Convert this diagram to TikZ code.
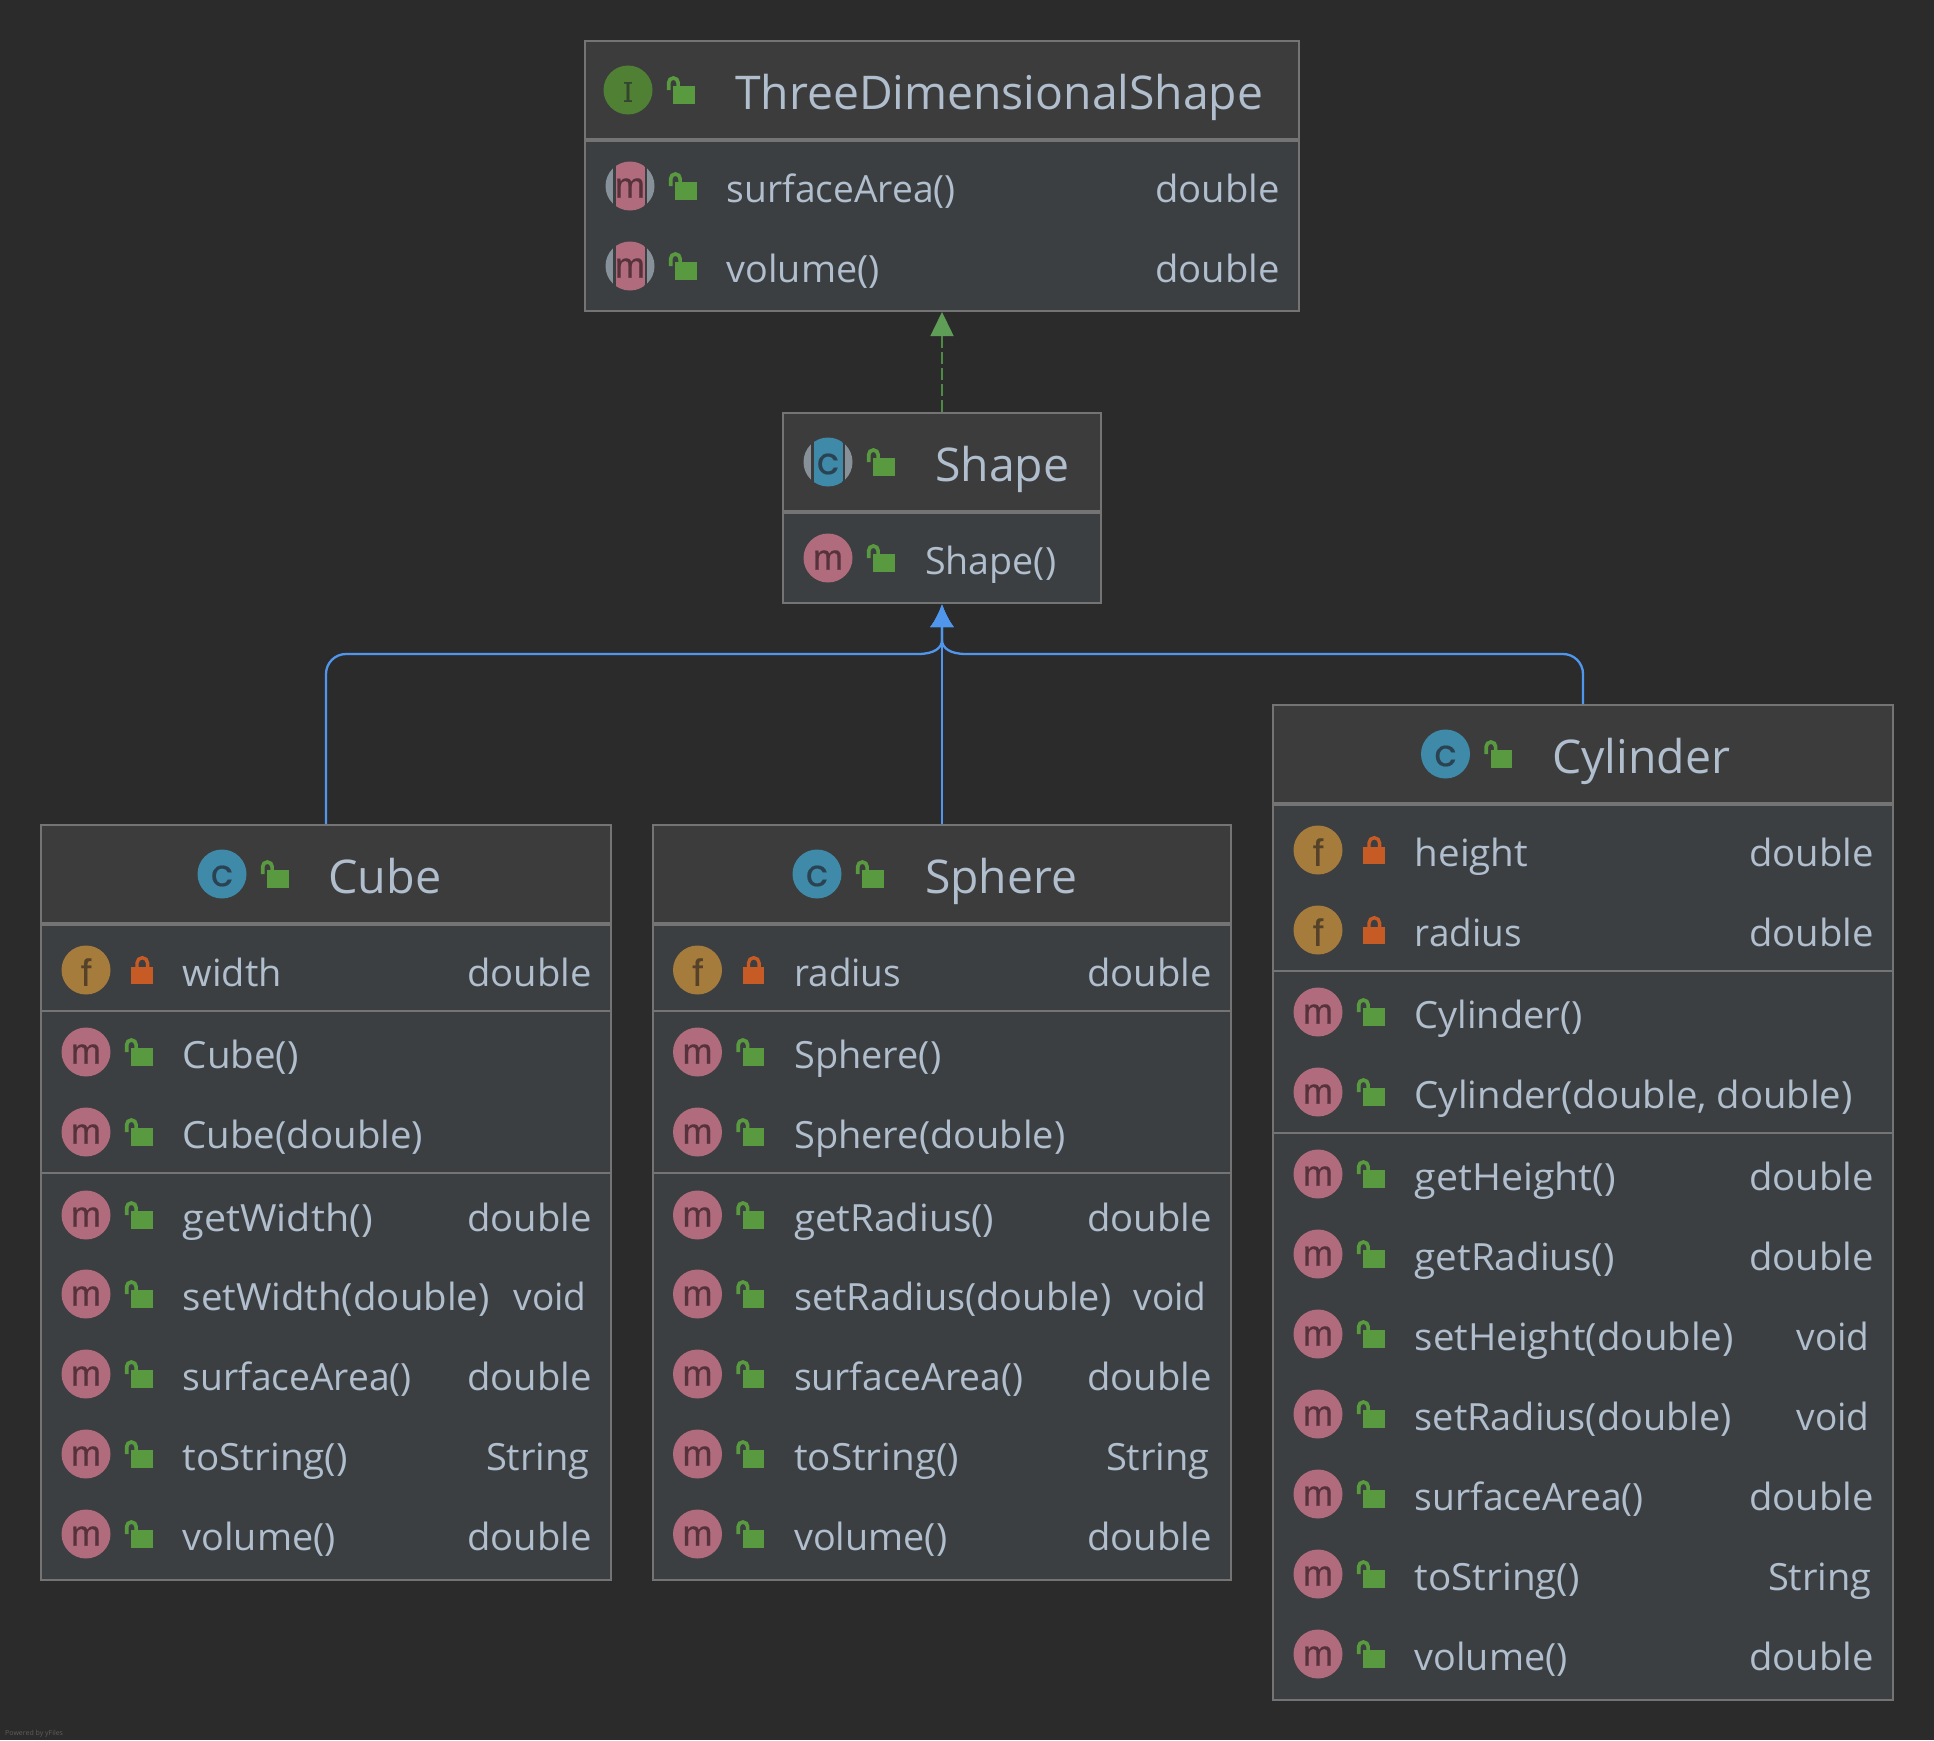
\documentclass[tikz,border=0pt]{standalone}
\usepackage{graphicx}
\usepackage{fontspec}
\setmainfont{Open Sans}
\newfontfamily\glyphfont[FakeBold=0.35]{Liberation Sans}
\newfontfamily\roundglyph[FakeBold=0.4]{Poppins}
\newfontfamily\serifglyph[FakeBold=0.4]{DejaVu Serif}
\usetikzlibrary{arrows.meta,calc}
\definecolor{pagebg}{HTML}{2B2B2B}
\definecolor{headbg}{HTML}{3C3C3C}
\definecolor{membg}{HTML}{3C3F41}
\definecolor{edge}{HTML}{747474}
\definecolor{txt}{HTML}{B0BECD}
\definecolor{lockg}{HTML}{599A40}
\definecolor{lockr}{HTML}{C75B26}
\definecolor{icm}{HTML}{B06B7C}
\definecolor{icmd}{HTML}{56323C}
\definecolor{icc}{HTML}{3F8AA8}
\definecolor{iccd}{HTML}{2B4252}
\definecolor{ici}{HTML}{4F8034}
\definecolor{icid}{HTML}{34442E}
\definecolor{icf}{HTML}{A67C3D}
\definecolor{icfd}{HTML}{554228}
\definecolor{icgrey}{HTML}{87919A}
\definecolor{inhblue}{HTML}{4F96EC}
\definecolor{impll}{HTML}{4F8A45}
\definecolor{implt}{HTML}{5F9E57}
\tikzset{
  boxnode/.style={draw=edge,line width=2pt,fill=membg,inner sep=0pt,anchor=north west},
  headnode/.style={draw=edge,line width=2pt,fill=headbg,inner sep=0pt,anchor=north west},
  headdiv/.style={draw=edge,line width=4pt},
  rowdiv/.style={draw=edge,line width=2pt},
  rowtext/.style={text=txt,inner sep=0pt,anchor=base west,font=\fontsize{37.5}{40}\selectfont},
  typetext/.style={text=txt,inner sep=0pt,anchor=base east,xshift=0.8pt,font=\fontsize{37.5}{40}\selectfont},
  headtext/.style={text=txt,inner sep=0pt,anchor=base west,font=\fontsize{46.5}{50}\selectfont},
  icondisc/.style={circle,inner sep=0pt,minimum size=49pt},
  glyph/.style={inner sep=0pt,anchor=center},
  inh/.style={draw=inhblue,line width=2.3pt},
  inhtip/.style={-{Latex[length=23pt,width=24pt,fill=inhblue]},shorten >=0.5pt},
  impl/.style={draw=impll,line width=2.5pt,dash pattern=on 12pt off 4pt},
  impltip/.style={fill=implt},
}
\newcommand{\tw}[2]{\resizebox{#1pt}{\height}{#2}}
\newcommand{\mglyph}{{\glyphfont\fontsize{36}{36}\selectfont m}}
\newcommand{\fglyph}{{\glyphfont\fontsize{38}{38}\selectfont f}}
\newcommand{\cglyph}{{\roundglyph\fontsize{37}{37}\selectfont c}}
\newcommand{\iglyph}{{\serifglyph\fontsize{27}{27}\selectfont I}}
% #1 name #2 x #3 y #4 fill #5 dark #6 letter
\newcommand{\ico}[6]{%
  \node[icondisc,fill=#4] (#1) at (#2,#3) {};
  \node[glyph,text=#5] at (#2,#3+2) {#6};}
% abstract variant: #7 colour behind the band
\newcommand{\icoab}[7]{%
  \node[icondisc,fill=icgrey] (#1) at (#2,#3) {};
  \fill[#7] (#2-16.7,#3-25) rectangle (#2+17.3,#3+25);
  \begin{scope}
    \clip (#2,#3) circle (24.5pt);
    \fill[#4] (#2-14.5,#3-25) rectangle (#2+14.5,#3+25);
  \end{scope}
  \node[glyph,text=#5] at (#2,#3+2) {#6};}
\newcommand{\lockopen}[2]{%
  \fill[lockg] (#1+45.3,#2-4) rectangle (#1+66.7,#2+13.7);
  \draw[lockg,line width=3.7pt] (#1+40.7,#2) -- (#1+40.7,#2-7.3) arc[start angle=180,end angle=0,radius=4.7pt] -- (#1+50.1,#2-3.5);}
\newcommand{\lockclosed}[2]{%
  \fill[lockr] (#1+45,#2-3.3) rectangle (#1+66.7,#2+13.7);
  \draw[lockr,line width=3.4pt] (#1+51,#2-3) -- (#1+51,#2-7) arc[start angle=180,end angle=0,radius=5.3pt] -- (#1+61.6,#2-3);}
% #1 name #2 icon x #3 y #4 text #5 type right x #6 type
\newcommand{\methodrow}[6]{%
  \ico{#1i}{#2}{#3}{icm}{icmd}{\mglyph}
  \lockopen{#2}{#3}
  \node[rowtext] (#1t) at (#2+96.5,#3+16) {#4};
  \node[typetext] (#1r) at (#5,#3+16) {#6};}
\newcommand{\fieldrow}[6]{%
  \ico{#1i}{#2}{#3}{icf}{icfd}{\fglyph}
  \lockclosed{#2}{#3}
  \node[rowtext] (#1t) at (#2+96.5,#3+16) {#4};
  \node[typetext] (#1r) at (#5,#3+16) {#6};}
\newcommand{\Dbl}{\tw{124.5}{double}}
\newcommand{\Vd}{\tw{73}{void}}
\newcommand{\Str}{\tw{103.6}{String}}
\begin{document}
\begin{tikzpicture}[x=1pt,y=-1pt]
\useasboundingbox (0,0) rectangle (1934,1740);
\fill[pagebg] (0,0) rectangle (1934,1740);

% boxes
\node[boxnode,minimum width=714pt,minimum height=270pt] (tds) at (584,40) {};
\node[headnode,minimum width=714pt,minimum height=99pt] (tdsh) at (584,40) {};
\node[boxnode,minimum width=318pt,minimum height=189.7pt] (shape) at (782,412) {};
\node[headnode,minimum width=318pt,minimum height=99pt] (shapeh) at (782,412) {};
\node[boxnode,minimum width=570pt,minimum height=754.7pt] (cube) at (40,824) {};
\node[headnode,minimum width=570pt,minimum height=99pt] (cubeh) at (40,824) {};
\node[boxnode,minimum width=578pt,minimum height=754.7pt] (sphere) at (652,824) {};
\node[headnode,minimum width=578pt,minimum height=99pt] (sphereh) at (652,824) {};
\node[boxnode,minimum width=620pt,minimum height=994.7pt] (cyl) at (1272,704) {};
\node[headnode,minimum width=620pt,minimum height=99pt] (cylh) at (1272,704) {};

% dividers
\draw[headdiv] (tds.west |- 0,140) -- (tds.east |- 0,140);
\draw[headdiv] (shape.west |- 0,512) -- (shape.east |- 0,512);
\draw[headdiv] (cube.west |- 0,924) -- (cube.east |- 0,924);
\draw[headdiv] (sphere.west |- 0,924) -- (sphere.east |- 0,924);
\draw[headdiv] (cyl.west |- 0,804) -- (cyl.east |- 0,804);
\draw[rowdiv] (cube.west |- 0,1011) -- (cube.east |- 0,1011);
\draw[rowdiv] (cube.west |- 0,1173) -- (cube.east |- 0,1173);
\draw[rowdiv] (sphere.west |- 0,1011) -- (sphere.east |- 0,1011);
\draw[rowdiv] (sphere.west |- 0,1173) -- (sphere.east |- 0,1173);
\draw[rowdiv] (cyl.west |- 0,971) -- (cyl.east |- 0,971);
\draw[rowdiv] (cyl.west |- 0,1133) -- (cyl.east |- 0,1133);

% ThreeDimensionalShape
\ico{tdsic}{628}{90}{ici}{icid}{\iglyph}
\lockopen{628}{90}
\node[headtext] (tdstitle) at (735,109) {\tw{528}{ThreeDimensionalShape}};
\icoab{saI}{630}{186}{icm}{icmd}{\mglyph}{membg}\lockopen{630}{186}
\node[rowtext] (sat) at (726.5,202) {\tw{229}{surfaceArea()}};
\node[typetext] (sar) at (1279,202) {\Dbl};
\icoab{voI}{630}{266}{icm}{icmd}{\mglyph}{membg}\lockopen{630}{266}
\node[rowtext] (vot) at (726.5,282) {\tw{153}{volume()}};
\node[typetext] (vor) at (1279,282) {\Dbl};

% Shape
\icoab{shic}{828}{462}{icc}{iccd}{\cglyph}{headbg}
\lockopen{828}{462}
\node[headtext] (shapetitle) at (935,481) {\tw{134}{Shape}};
\ico{shmi}{828}{558}{icm}{icmd}{\mglyph}\lockopen{828}{558}
\node[rowtext] (shmt) at (925,574) {\tw{131}{Shape()}};

% Cube
\ico{cuic}{222}{874}{icc}{iccd}{\cglyph}\lockopen{222}{874}
\node[headtext] (cubetitle) at (328,893) {\tw{113}{Cube}};
\fieldrow{cw}{86}{970}{\tw{99}{width}}{591}{\Dbl}
\methodrow{cc}{86}{1052}{\tw{116}{Cube()}}{591}{}
\methodrow{cd}{86}{1132}{\tw{240.5}{Cube(double)}}{591}{}
\methodrow{cg}{86}{1215}{\tw{190}{getWidth()}}{591}{\Dbl}
\methodrow{cs}{86}{1294}{\tw{307}{setWidth(double)}}{586}{\Vd}
\methodrow{ca}{86}{1374}{\tw{229}{surfaceArea()}}{591}{\Dbl}
\methodrow{ct}{86}{1454}{\tw{165}{toString()}}{589}{\Str}
\methodrow{cv}{86}{1534}{\tw{153}{volume()}}{591}{\Dbl}

% Sphere
\ico{spic}{817}{874}{icc}{iccd}{\cglyph}\lockopen{817}{874}
\node[headtext] (spheretitle) at (925,893) {\tw{152}{Sphere}};
\fieldrow{sr}{697.5}{970}{\tw{107}{radius}}{1211}{\Dbl}
\methodrow{sc}{697.5}{1052}{\tw{147}{Sphere()}}{1211}{}
\methodrow{sd}{697.5}{1132}{\tw{271}{Sphere(double)}}{1211}{}
\methodrow{sg}{697.5}{1215}{\tw{200}{getRadius()}}{1211}{\Dbl}
\methodrow{ss}{697.5}{1294}{\tw{317}{setRadius(double)}}{1206}{\Vd}
\methodrow{sa}{697.5}{1374}{\tw{229}{surfaceArea()}}{1211}{\Dbl}
\methodrow{st}{697.5}{1454}{\tw{165}{toString()}}{1209}{\Str}
\methodrow{sv}{697.5}{1534}{\tw{153}{volume()}}{1211}{\Dbl}

% Cylinder
\ico{cyic}{1445.5}{754}{icc}{iccd}{\cglyph}\lockopen{1445.5}{754}
\node[headtext] (cyltitle) at (1552,773) {\tw{178}{Cylinder}};
\fieldrow{yh}{1318}{850}{\tw{113.5}{height}}{1873}{\Dbl}
\fieldrow{yr}{1318}{930}{\tw{107}{radius}}{1873}{\Dbl}
\methodrow{yc}{1318}{1012}{\tw{168}{Cylinder()}}{1873}{}
\methodrow{yd}{1318}{1092}{\tw{438}{Cylinder(double, double)}}{1873}{}
\methodrow{yg}{1318}{1174}{\tw{201}{getHeight()}}{1873}{\Dbl}
\methodrow{yi}{1318}{1254}{\tw{200}{getRadius()}}{1873}{\Dbl}
\methodrow{ye}{1318}{1334}{\tw{319}{setHeight(double)}}{1869}{\Vd}
\methodrow{yf}{1318}{1414}{\tw{317}{setRadius(double)}}{1869}{\Vd}
\methodrow{ya}{1318}{1494}{\tw{229}{surfaceArea()}}{1873}{\Dbl}
\methodrow{yt}{1318}{1574}{\tw{165}{toString()}}{1871}{\Str}
\methodrow{yv}{1318}{1654}{\tw{153}{volume()}}{1873}{\Dbl}

% connectors
\coordinate (merge) at (942,654);
\draw[impl] (shapeh.north) -- ($(tds.south)+(0,24)$);
\fill[impltip] (tds.south) -- ($(tds.south)+(11.7,24)$) -- ($(tds.south)+(-11.7,24)$) -- cycle;
\draw[inh,inhtip] (sphereh.north) -- (shape.south);
\draw[inh,inhtip] (cubeh.north) -- (cubeh.north |- 0,674) arc[start angle=180,end angle=90,radius=20pt]
  -- ($(merge)+(-24,0)$) .. controls ($(merge)+(-8,0)$) and ($(merge)+(0,-6)$) .. ($(merge)+(0,-14)$) -- (shape.south);
\draw[inh,inhtip] (cylh.north) -- (cylh.north |- 0,674) arc[start angle=0,end angle=90,radius=20pt]
  -- ($(merge)+(24,0)$) .. controls ($(merge)+(8,0)$) and ($(merge)+(0,-6)$) .. ($(merge)+(0,-14)$) -- (shape.south);

\node[text=edge!70!pagebg,inner sep=0pt,anchor=base west,font=\fontsize{7}{8}\selectfont] (yfiles) at (5,1735) {Powered by yFiles};
\end{tikzpicture}
\end{document}
